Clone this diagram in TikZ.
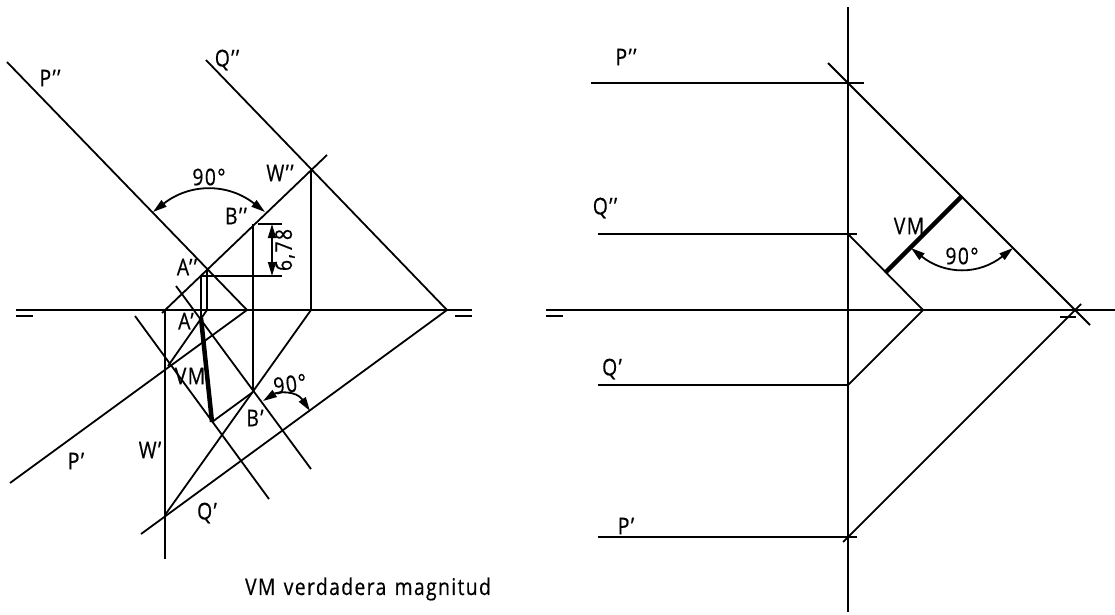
\documentclass[tikz,border=0pt]{standalone}
\usepackage{fontspec}
\setmainfont{Open Sans}[LetterSpace=6,FakeStretch=0.84,WordSpace=1.3,FakeBold=0.5]
\usetikzlibrary{arrows.meta}
\tikzset{
  lbl/.style={inner sep=0pt, font=\fontsize{23}{23}\selectfont},
  ang/.style={{Triangle[length=14pt,width=8pt]}-{Triangle[length=14pt,width=8pt]}},
  vm/.style={line width=4.5pt}
}

\begin{document}
\begin{tikzpicture}[x=1pt,y=-1pt,line width=1.8pt]
\useasboundingbox (0,0) rectangle (1115,614);

\draw (16,310) -- (472,310);
\draw (16,316) -- (33,316);
\draw (455,316) -- (472,316);

\draw (7,62) -- (247,310) -- (10,483);
\draw (206,60) -- (447,310) -- (141,534);
\draw (162,313) -- (327,155);
\draw (311,168) -- (311,310) -- (165,515);
\draw (165,310) -- (165,559);
\draw (253,224) -- (253,392);
\draw (207,268) -- (207,310) -- (168,366);
\draw (201,276) -- (201,318);
\draw (201,276) -- (282,276);
\draw (258,224) -- (282,224);
\draw[ang] (272,224) -- (272,276);
\draw (135,316) -- (269,499);
\draw (176,286) -- (311,469);
\draw (212,422) -- (253,392);
\draw[vm] (201,318) -- (212,422);
\draw[ang] (153,212) .. controls (190,183) and (228,183) .. (265,212);
\draw[ang] (263,401) .. controls (277,392) and (296,390) .. (310,411);

\node[lbl] (Pss) at (50,78) {P'{}'};
\node[lbl] (Qss) at (227,60) {Q'{}'};
\node[lbl] (ang1) at (209,177) {90°};
\node[lbl] (Wss) at (280,173) {W'{}'};
\node[lbl] (Bss) at (236,216) {B'{}'};
\node[lbl] (Ass) at (187,267) {A'{}'};
\node[lbl] (As) at (186,321) {A'};
\node[lbl] (vm1) at (190,376) {VM};
\node[lbl] (Bs) at (255,418) {B'};
\node[lbl] (Ws) at (150,450) {W'};
\node[lbl] (Ps) at (76,461) {P'};
\node[lbl] (Qs) at (207,513) {Q'};
\node[lbl,rotate=8] (ang2) at (290,384) {90°};
\node[lbl,rotate=90] (dim) at (285,250) {6,78};
\node[lbl] (note) at (368,589) {VM verdadera magnitud};

\draw (848,7) -- (848,612);
\draw (546,310) -- (1115,310);
\draw (546,316) -- (563,316);
\draw (1060,317) -- (1076,317);
\draw (591,83) -- (864,83);
\draw (598,234) -- (857,234);
\draw (598,385) -- (848,385);
\draw (598,537) -- (857,537);
\draw (828,63) -- (1090,325);
\draw (848,234) -- (923,310) -- (848,385);
\draw (843,542) -- (1081,304);
\draw[vm] (886,272) -- (962,196);
\draw[ang] (911,248) .. controls (945,275) and (979,275) .. (1013,248);

\node[lbl] (Pss2) at (626,57) {P'{}'};
\node[lbl] (Qss2) at (605,208) {Q'{}'};
\node[lbl] (Qs2) at (612,369) {Q'};
\node[lbl] (Ps2) at (626,526) {P'};
\node[lbl] (vm2) at (909,226) {VM};
\node[lbl] (ang3) at (962,256) {90°};

\end{tikzpicture}
\end{document}
